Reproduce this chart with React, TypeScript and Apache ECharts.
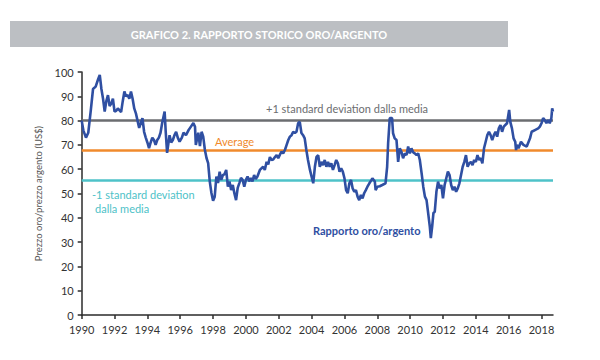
import React, { useEffect, useRef } from "react";
import * as echarts from "echarts";

const years: number[] = [
  1990.0, 1990.1, 1990.26, 1990.4, 1990.55, 1990.69, 1990.85, 1991.0, 1991.1, 1991.2,
  1991.3, 1991.4, 1991.5, 1991.6, 1991.7, 1991.8, 1991.9, 1992.0, 1992.1, 1992.2,
  1992.4, 1992.5, 1992.6, 1992.7, 1992.8, 1992.9, 1993.0, 1993.1, 1993.2, 1993.3,
  1993.4, 1993.5, 1993.6, 1993.7, 1993.8, 1993.9, 1994.0, 1994.1, 1994.2, 1994.3,
  1994.4, 1994.5, 1994.6, 1994.7, 1994.8, 1994.9, 1995.05, 1995.12, 1995.2, 1995.35,
  1995.45, 1995.55, 1995.65, 1995.75, 1995.85, 1995.96, 1996.1, 1996.2, 1996.35, 1996.5,
  1996.6, 1996.8, 1996.9, 1996.95, 1997.1, 1997.2, 1997.3, 1997.4, 1997.5, 1997.6,
  1997.7, 1997.8, 1997.9, 1998.0, 1998.1, 1998.2, 1998.3, 1998.4, 1998.5, 1998.6,
  1998.7, 1998.8, 1998.9, 1999.0, 1999.1, 1999.2, 1999.3, 1999.4, 1999.5, 1999.6,
  1999.7, 1999.8, 1999.9, 2000.0, 2000.1, 2000.2, 2000.3, 2000.4, 2000.5, 2000.6,
  2000.7, 2000.85, 2001.05, 2001.15, 2001.26, 2001.36, 2001.46, 2001.56, 2001.66, 2001.77,
  2001.87, 2001.97, 2002.07, 2002.17, 2002.27, 2002.38, 2002.48, 2002.58, 2002.68, 2002.78,
  2002.88, 2002.98, 2003.08, 2003.18, 2003.28, 2003.38, 2003.48, 2003.58, 2003.68, 2003.78,
  2003.9, 2004.0, 2004.1, 2004.2, 2004.3, 2004.4, 2004.5, 2004.6, 2004.7, 2004.8,
  2004.9, 2005.0, 2005.1, 2005.2, 2005.3, 2005.4, 2005.5, 2005.6, 2005.7, 2005.8,
  2005.9, 2006.0, 2006.1, 2006.2, 2006.3, 2006.4, 2006.5, 2006.6, 2006.7, 2006.8,
  2006.9, 2007.0, 2007.1, 2007.2, 2007.3, 2007.4, 2007.5, 2007.65, 2007.7, 2007.85,
  2007.9, 2008.0, 2008.15, 2008.3, 2008.5, 2008.6, 2008.66, 2008.76, 2008.9, 2008.96,
  2009.06, 2009.17, 2009.27, 2009.37, 2009.47, 2009.57, 2009.68, 2009.78, 2009.88, 2009.98,
  2010.08, 2010.18, 2010.28, 2010.39, 2010.49, 2010.59, 2010.7, 2010.8, 2010.9, 2011.0,
  2011.1, 2011.2, 2011.26, 2011.34, 2011.42, 2011.5, 2011.6, 2011.7, 2011.8, 2011.9,
  2012.0, 2012.1, 2012.2, 2012.3, 2012.4, 2012.5, 2012.6, 2012.7, 2012.8, 2012.9,
  2013.0, 2013.1, 2013.2, 2013.3, 2013.4, 2013.5, 2013.6, 2013.7, 2013.8, 2013.9,
  2014.0, 2014.1, 2014.2, 2014.3, 2014.4, 2014.5, 2014.6, 2014.7, 2014.8, 2014.9,
  2015.0, 2015.1, 2015.2, 2015.3, 2015.4, 2015.5, 2015.6, 2015.7, 2015.9, 2016.03,
  2016.1, 2016.2, 2016.3, 2016.4, 2016.45, 2016.5, 2016.6, 2016.75, 2016.9, 2017.1,
  2017.3, 2017.4, 2017.6, 2017.8, 2017.9, 2018.0, 2018.1, 2018.2, 2018.3, 2018.4,
  2018.5, 2018.6, 2018.65, 2018.7,
];

const ratio: number[] = [
  80, 76, 73, 75, 84, 93, 94, 97, 98.8, 93,
  89, 83.7, 88, 90.5, 86, 87, 89, 83.7, 84, 85,
  83.5, 88, 92, 90, 90.5, 89, 92, 89, 85, 83,
  80, 77, 79, 81, 75.4, 73, 71, 68.7, 71, 73,
  72, 70, 72, 73, 75, 79, 83.7, 75, 66.7, 74,
  71, 72, 74, 75.4, 73, 71.3, 73, 75, 74, 76,
  77, 79, 77.5, 70, 75, 69.5, 75.4, 73.4, 68, 64.6,
  62.5, 54.9, 50.2, 47, 48.7, 57, 54.3, 59, 55.6, 57.6,
  58, 59.7, 52.8, 54.9, 51.4, 53.5, 50, 47.3, 52.3, 54.3,
  56.4, 55.6, 52.8, 55.6, 57, 55, 56.4, 55, 57.6, 56,
  57, 59.7, 61, 59.7, 63, 62, 65, 63.8, 64, 65,
  65.8, 64.5, 66, 67.2, 66.5, 68, 70, 72, 73.4, 74,
  75.4, 74.9, 75.4, 78.9, 79.5, 74.9, 74, 72.7, 67.9, 63.8,
  59.7, 56.9, 54.2, 61, 65.1, 65.8, 61, 63, 61.7, 63.8,
  61, 63, 61, 62.4, 59.7, 61.7, 63.8, 62.4, 59, 60.4,
  59, 56.3, 51.4, 50.1, 54.2, 55.6, 52.1, 50.7, 51.4, 48.7,
  47.3, 49.4, 48, 50.1, 51.4, 52.8, 54, 55.6, 56.3, 54.9,
  51.4, 52.8, 53, 53.5, 54.2, 61, 70.7, 81, 81, 74.8,
  72.7, 72, 63, 68.6, 67.2, 64.5, 66.5, 65.8, 69.3, 66.5,
  68.6, 67, 66.5, 65.8, 66.5, 63.8, 58.3, 52.8, 48.7, 47.3,
  41.8, 36.3, 31.6, 36.3, 42, 42.5, 50.7, 54.9, 52.1, 53.5,
  48, 53.5, 56.3, 59, 57.6, 53.5, 51.4, 52.8, 50.7, 52.1,
  54.2, 57.6, 61, 63, 65.8, 61, 62.4, 63, 61.7, 63.8,
  63, 65.8, 63.8, 64.5, 62.4, 68.6, 71.3, 74, 75.4, 74,
  72, 74, 75.4, 73.4, 76.8, 78.2, 75.4, 77.5, 78.9, 84.4,
  79.5, 76.8, 72.7, 71.3, 67.9, 70, 68.6, 71.3, 70, 69.3,
  72.7, 75.4, 76.1, 76.8, 77.5, 78.9, 81, 80.2, 78.9, 80.2,
  78.9, 81, 85, 83.7,
];

const plusOneSd = 80.2;
const average = 67.8;
const minusOneSd = 55.4;

const xTickLabels: number[] = [1990, 1992, 1994, 1996, 1998, 2000, 2002, 2004, 2006, 2008, 2010, 2012, 2014, 2016, 2018];

const FONT = "Lato, 'Open Sans', sans-serif";

export default function App() {
  const ref = useRef<HTMLDivElement>(null);
  useEffect(() => {
    if (!ref.current) return;
    const chart = echarts.init(ref.current, undefined, { renderer: "svg" });
    const data = years.map((y, i) => [y, ratio[i]]);
    chart.setOption({
      animation: false,
      backgroundColor: "#ffffff",
      textStyle: { fontFamily: FONT },
      grid: { left: 81.7, right: 47, top: 72, bottom: 45 },
      xAxis: {
        type: "value",
        min: 1990,
        max: 2018.7,
        axisLine: { lineStyle: { color: "#2b2b2b", width: 1.5 } },
        axisTick: { show: true, length: 4, customValues: xTickLabels, lineStyle: { color: "#2b2b2b", width: 1.5 } },
        axisLabel: {
          customValues: xTickLabels,
          color: "#333",
          fontSize: 11,
          margin: 9,
          fontFamily: FONT,
          formatter: (v: number) => String(Math.round(v)),
        },
        splitLine: { show: false },
      },
      yAxis: {
        type: "value",
        min: 0,
        max: 100,
        interval: 10,
        name: "Prezzo oro/prezzo argento (US$)",
        nameLocation: "middle",
        nameGap: 31,
        nameTextStyle: { color: "#555", fontSize: 9.5, fontFamily: FONT },
        axisLine: { show: true, lineStyle: { color: "#2b2b2b", width: 1.5 } },
        axisTick: { show: true, length: 4, lineStyle: { color: "#2b2b2b", width: 1.5 } },
        axisLabel: { color: "#333", fontSize: 11, margin: 8, fontFamily: FONT },
        splitLine: { show: false },
      },
      series: [
        {
          type: "line",
          data,
          showSymbol: false,
          symbol: "none",
          lineStyle: { color: "#2f4fa2", width: 2.6 },
          z: 3,
          markLine: {
            silent: true,
            symbol: "none",
            label: { show: false },
            z: 1,
            data: [
              { yAxis: plusOneSd, lineStyle: { color: "#6b6d70", width: 2.5, type: "solid" } },
              { yAxis: average, lineStyle: { color: "#f08a2c", width: 2.5, type: "solid" } },
              { yAxis: minusOneSd, lineStyle: { color: "#4ec2c8", width: 2.5, type: "solid" } },
            ],
          },
        },
      ],
      graphic: [
        { type: "rect", shape: { x: 10, y: 21, width: 498, height: 26 }, style: { fill: "#bcbfc3" } },
        {
          type: "text",
          x: 259,
          y: 34,
          style: { text: "GRAFICO 2. RAPPORTO STORICO ORO/ARGENTO", fill: "#ffffff", font: `bold 11px ${FONT}`, align: "center", verticalAlign: "middle" },
        },
        {
          type: "text",
          x: 266,
          y: 108,
          style: { text: "+1 standard deviation dalla media", fill: "#6b6d70", font: `11px ${FONT}`, align: "left", verticalAlign: "middle" },
        },
        {
          type: "text",
          x: 215,
          y: 141,
          style: { text: "Average", fill: "#f08a2c", font: `11px ${FONT}`, align: "left", verticalAlign: "middle" },
        },
        {
          type: "text",
          x: 92,
          y: 194,
          style: { text: "-1 standard deviation", fill: "#4ec2c8", font: `11px ${FONT}`, align: "left", verticalAlign: "middle" },
        },
        {
          type: "text",
          x: 95,
          y: 208,
          style: { text: "dalla media", fill: "#4ec2c8", font: `11px ${FONT}`, align: "left", verticalAlign: "middle" },
        },
        {
          type: "text",
          x: 313,
          y: 230,
          style: { text: "Rapporto oro/argento", fill: "#2f4fa2", font: `bold 11px ${FONT}`, align: "left", verticalAlign: "middle" },
        },
      ],
    });
    return () => chart.dispose();
  }, []);
  return <div ref={ref} style={{ position: "absolute", left: 0, top: 0, width: 600, height: 360 }} />;
}
